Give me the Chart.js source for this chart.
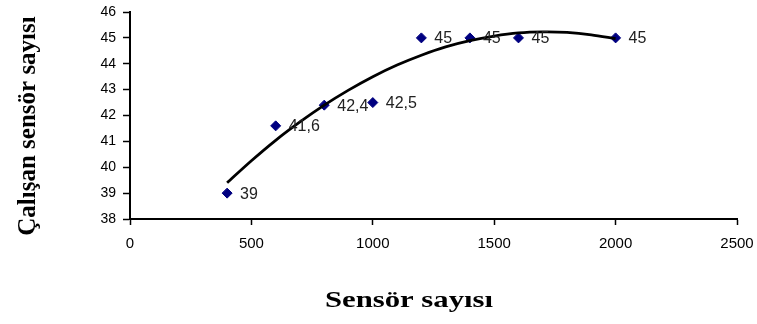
<!DOCTYPE html>
<html>
<head>
<meta charset="utf-8">
<script src="https://cdn.jsdelivr.net/npm/chart.js@4.4.1/dist/chart.umd.min.js"></script>
<style>
  html, body { margin: 0; padding: 0; background: #fff; }
  #wrap { width: 757px; height: 324px; position: relative; }
</style>
</head>
<body>
<div id="wrap"><canvas id="c" width="757" height="324"></canvas></div>
<script>
// Measured data points
const sensorCounts = [400, 600, 800, 1000, 1200, 1400, 1600, 2000];
const workingSensors = [39, 41.6, 42.4, 42.5, 45, 45, 45, 45];
// Trend line (polynomial trendline)
const trendX = [400, 500, 600, 700, 800, 900, 1000, 1100, 1200, 1300, 1400, 1500, 1600, 1700, 1800, 1900, 2000];
const trendY = [39.40, 40.25, 41.04, 41.75, 42.40, 42.98, 43.50, 43.95, 44.33, 44.65, 44.89, 45.07, 45.19, 45.23, 45.21, 45.12, 44.97];
const xTicks = [0, 500, 1000, 1500, 2000, 2500];
const yTicks = [38, 39, 40, 41, 42, 43, 44, 45, 46];
const xTitle = 'Sensör sayısı';
const yTitle = 'Çalışan sensör sayısı';

const pointData = sensorCounts.map((x, i) => ({ x: x, y: workingSensors[i] }));
const trendData = trendX.map((x, i) => ({ x: x, y: trendY[i] }));

const labelPlugin = {
  id: 'pointLabels',
  afterDatasetsDraw(chart) {
    const meta = chart.getDatasetMeta(1);
    const ctx = chart.ctx;
    ctx.save();
    ctx.font = '16px "Liberation Sans", Arial, sans-serif';
    ctx.fillStyle = '#222';
    ctx.textAlign = 'left';
    ctx.textBaseline = 'middle';
    meta.data.forEach((pt, i) => {
      const txt = String(workingSensors[i]).replace('.', ',');
      ctx.fillText(txt, pt.x + 13, pt.y + 1);
    });
    ctx.restore();
  }
};

const titlePlugin = {
  id: 'titles',
  afterDraw(chart) {
    const ctx = chart.ctx;
    ctx.save();
    ctx.fillStyle = '#000';
    ctx.font = 'bold 24px "Liberation Serif", "Times New Roman", serif';
    ctx.textAlign = 'center';
    ctx.textBaseline = 'alphabetic';
    ctx.translate(409, 307);
    ctx.scale(1.28, 1);
    ctx.fillText(xTitle, 0, 0);
    ctx.restore();

    ctx.save();
    ctx.fillStyle = '#000';
    ctx.font = 'bold 25px "Liberation Serif", "Times New Roman", serif';
    ctx.textAlign = 'center';
    ctx.textBaseline = 'alphabetic';
    ctx.translate(35, 126);
    ctx.rotate(-Math.PI / 2);
    ctx.fillText(yTitle, 0, 0);
    ctx.restore();
  }
};

new Chart(document.getElementById('c'), {
  type: 'scatter',
  data: {
    datasets: [
      {
        type: 'line',
        label: 'trend',
        data: trendData,
        borderColor: '#000',
        borderWidth: 2.8,
        pointRadius: 0,
        fill: false,
        tension: 0.3,
        order: 0
      },
      {
        label: 'data',
        data: pointData,
        pointStyle: 'rectRot',
        pointRadius: 5,
        pointBackgroundColor: '#000080',
        pointBorderColor: '#000080',
        pointBorderWidth: 1,
        showLine: false,
        order: 1
      }
    ]
  },
  options: {
    responsive: false,
    animation: false,
    layout: { padding: { left: 0, right: 20, top: 12, bottom: 0 } },
    plugins: { legend: { display: false }, tooltip: { enabled: false } },
    scales: {
      x: {
        type: 'linear',
        min: 0, max: 2500,
        afterBuildTicks(s) { s.ticks = xTicks.map(v => ({ value: v })); },
        afterFit(s) { s.height = 105; s.paddingLeft = 0; s.paddingRight = 0; },
        grid: { drawOnChartArea: false, drawTicks: true, tickLength: 6, tickColor: '#000', tickWidth: 1.5 },
        border: { color: '#000', width: 2 },
        ticks: { color: '#000', padding: 10, font: { family: '"Liberation Sans", Arial, sans-serif', size: 15 }, maxRotation: 0, callback: v => String(v) }
      },
      y: {
        type: 'linear',
        min: 38, max: 46,
        afterBuildTicks(s) { s.ticks = yTicks.map(v => ({ value: v })); },
        afterFit(s) { s.width = 130; s.paddingTop = 0; s.paddingBottom = 0; },
        grid: { drawOnChartArea: false, drawTicks: true, tickLength: 7, tickColor: '#000', tickWidth: 1.5 },
        border: { color: '#000', width: 2 },
        ticks: { color: '#000', padding: 7, font: { family: '"Liberation Sans", Arial, sans-serif', size: 14 }, callback: v => String(v) }
      }
    }
  },
  plugins: [labelPlugin, titlePlugin]
});
</script>
</body>
</html>
